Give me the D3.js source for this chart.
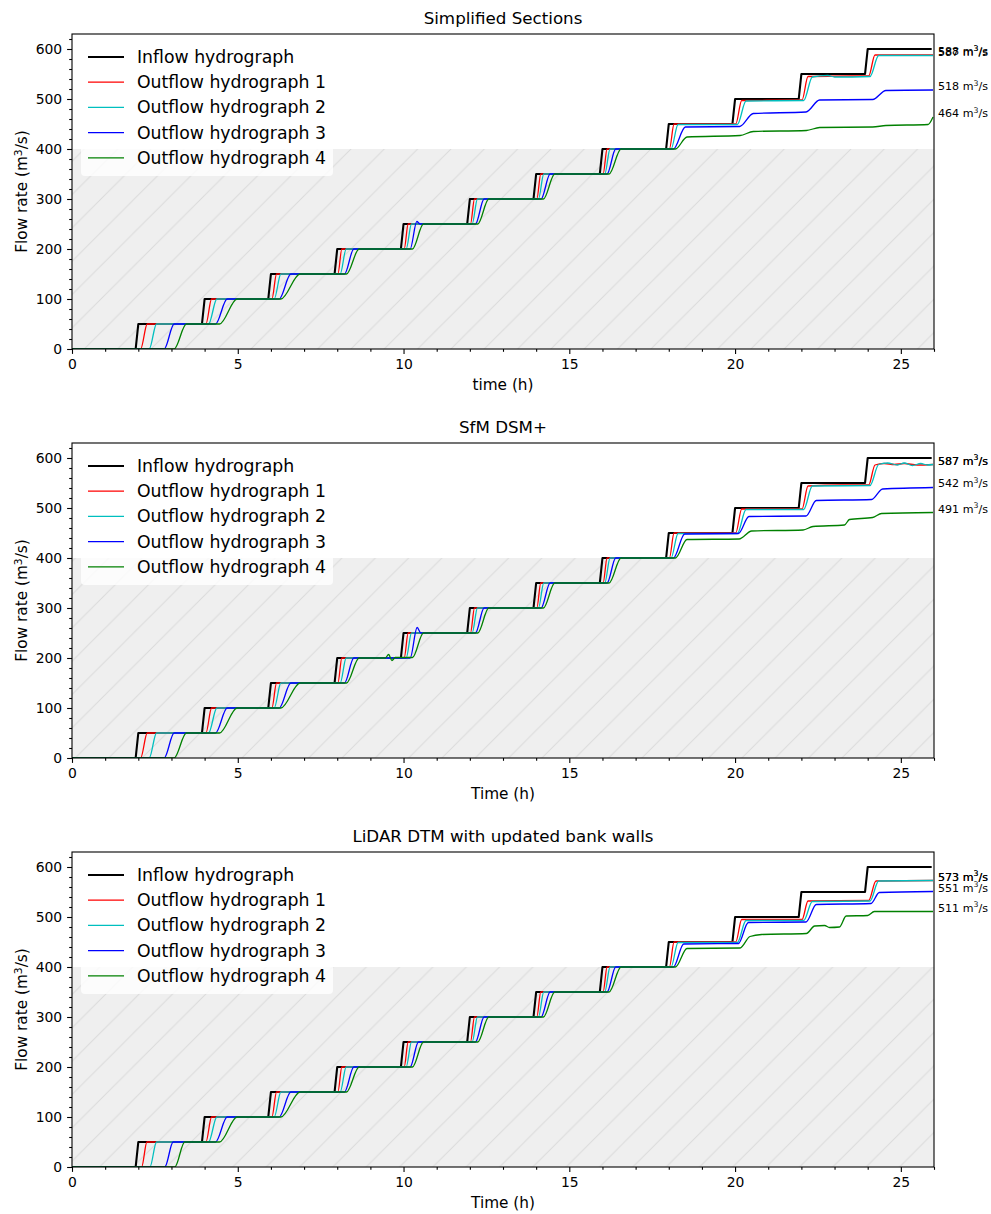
<!DOCTYPE html>
<html>
<head>
<meta charset="utf-8">
<script src="https://cdn.jsdelivr.net/npm/d3@7"></script>
<style>
  body { margin: 0; background: #fff; }
  svg text { font-family: "DejaVu Sans", sans-serif; fill: #000; }
</style>
</head>
<body>
<svg id="chart" width="991" height="1214"></svg>
<script>
// ---- data ----
const panelTitles = ["Simplified Sections", "SfM DSM+", "LiDAR DTM with updated bank walls"];
const xAxisLabels = ["time (h)", "Time (h)", "Time (h)"];
const seriesNames = ["Inflow hydrograph", "Outflow hydrograph 1", "Outflow hydrograph 2",
                     "Outflow hydrograph 3", "Outflow hydrograph 4"];
const xTicks = [0, 5, 10, 15, 20, 25];
const yTicks = [0, 100, 200, 300, 400, 500, 600];
const shadeLimit = 400;

// time (h), flow (m3/s)
const inflow = [[0,0],[1.92,0],[2.0,50],[3.92,50],[4.0,100],[5.92,100],[6.0,150],[7.92,150],
  [8.0,200],[9.92,200],[10.0,250],[11.92,250],[12.0,300],[13.92,300],[14.0,350],[15.92,350],
  [16.0,400],[17.92,400],[18.0,450],[19.92,450],[20.0,500],[21.92,500],[22.0,550],[23.92,550],
  [24.0,600],[25.93,600]];

// Simplified sections
const simpOut1 = [[0,0],[2.07,0],[2.27,50],[4.04,50],[4.21,100],[6.03,100],[6.17,150],[8.02,150],
  [8.14,200],[10.02,200],[10.14,250],[12.02,250],[12.14,300],[14.02,300],[14.14,350],[16.02,350],
  [16.14,400],[18.02,400],[18.16,450],[20.02,450],[20.2,497],[22.02,498],[22.2,545],[23.5,546],
  [24.03,546],[24.22,588],[25.97,588]];
const simpOut2 = [[0,0],[2.33,0],[2.55,50],[4.12,50],[4.37,100],[6.1,100],[6.3,150],[8.09,150],
  [8.27,200],[10.08,200],[10.24,250],[12.07,250],[12.23,300],[14.07,300],[14.23,350],[16.07,350],
  [16.23,400],[18.07,400],[18.28,449],[20.07,449],[20.33,496],[22.07,497],[22.33,544],[22.8,547],
  [23.0,544],[24.07,545],[24.33,587],[25.97,587]];
const simpOut3 = [[0,0],[2.78,0],[3.08,50],[4.33,50],[4.68,100],[6.25,100],[6.6,150],[8.22,150],
  [8.5,200],[10.2,200],[10.4,255],[10.5,250],[12.17,250],[12.43,300],[14.15,300],[14.42,350],
  [16.14,350],[16.4,400],[18.14,400],[18.5,444],[20.14,445],[20.55,471],[22.14,474],[22.55,498],
  [24.15,499],[24.55,517],[25.97,518]];
const simpOut4 = [[0,0],[3.08,0],[3.45,50],[4.45,50],[4.98,100],[6.3,100],[6.88,150],[8.28,150],
  [8.66,200],[10.27,200],[10.6,250],[12.24,250],[12.57,300],[14.22,300],[14.56,350],[16.2,350],
  [16.56,400],[18.2,400],[18.55,424],[20.15,427],[20.55,435],[22.15,437],[22.55,443],[24.15,444],
  [24.55,447],[25.82,449],[25.97,464]];
const simpFinal = [588, 587, 518, 464];

// SfM DSM+
const sfmOut1 = [[0,0],[2.07,0],[2.27,50],[4.04,50],[4.21,100],[6.03,100],[6.17,150],[8.02,150],
  [8.14,200],[10.02,200],[10.14,250],[12.02,250],[12.14,300],[14.02,300],[14.14,350],[16.02,350],
  [16.14,400],[18.02,400],[18.16,450],[20.02,450],[20.2,498],[22.02,498],[22.2,544],[23.2,546],
  [24.03,546],[24.22,586],[24.5,589],[24.8,587],[25.1,589],[25.5,586],[25.97,587]];
const sfmOut2 = [[0,0],[2.33,0],[2.55,50],[4.12,50],[4.37,100],[6.1,100],[6.3,150],[8.09,150],
  [8.27,200],[10.08,200],[10.24,250],[12.07,250],[12.23,300],[14.07,300],[14.23,350],[16.07,350],
  [16.23,400],[18.07,400],[18.28,449],[20.07,449],[20.33,497],[22.07,497],[22.33,544],[24.07,545],
  [24.33,587],[24.6,590],[24.9,586],[25.1,590],[25.35,585],[25.6,589],[25.8,586],[25.97,587]];
const sfmOut3 = [[0,0],[2.78,0],[3.08,50],[4.33,50],[4.68,100],[6.25,100],[6.6,150],[8.22,150],
  [8.5,200],[10.2,200],[10.41,261],[10.52,250],[12.17,250],[12.43,300],[14.15,300],[14.42,350],
  [16.14,350],[16.4,400],[18.14,400],[18.48,448],[20.1,449],[20.42,483],[22.14,484],[22.45,515],
  [24.12,517],[24.45,538],[25.97,541]];
const sfmOut4 = [[0,0],[3.08,0],[3.45,50],[4.45,50],[4.98,100],[6.3,100],[6.88,150],[8.28,150],
  [8.66,200],[9.45,200],[9.55,207],[9.65,195],[9.75,201],[10.27,201],[10.6,250],[12.24,250],
  [12.57,300],[14.22,300],[14.56,350],[16.2,350],[16.56,400],[18.2,400],[18.55,437],[20.12,438],
  [20.5,454],[22.05,456],[22.35,463],[23.3,466],[23.45,477],[24.15,481],[24.42,489],[25.97,491]];
const sfmFinal = [587, 587, 542, 491];

// LiDAR DTM with updated bank walls
const lidarOut1 = [[0,0],[2.1,0],[2.26,50],[4.04,50],[4.21,100],[6.03,100],[6.17,150],[8.02,150],
  [8.14,200],[10.02,200],[10.14,250],[12.02,250],[12.14,300],[14.02,300],[14.14,350],[16.02,350],
  [16.14,400],[18.02,400],[18.16,450],[20.02,450],[20.2,495],[22.02,495],[22.2,532],[24.03,533],
  [24.25,572],[25.97,573]];
const lidarOut2 = [[0,0],[2.35,0],[2.55,50],[4.12,50],[4.37,100],[6.1,100],[6.3,150],[8.09,150],
  [8.27,200],[10.08,200],[10.24,250],[12.07,250],[12.23,300],[14.07,300],[14.23,350],[16.07,350],
  [16.23,400],[18.07,400],[18.28,449],[20.07,449],[20.33,493],[22.07,493],[22.33,531],[24.07,532],
  [24.33,572],[25.97,573]];
const lidarOut3 = [[0,0],[2.8,0],[3.05,50],[4.33,50],[4.68,100],[6.25,100],[6.6,150],[8.22,150],
  [8.5,200],[10.2,200],[10.45,250],[12.17,250],[12.43,300],[14.15,300],[14.42,350],[16.14,350],
  [16.4,400],[18.14,400],[18.45,446],[20.1,447],[20.4,489],[22.14,490],[22.45,525],[24.1,527],
  [24.35,549],[25.97,551]];
const lidarOut4 = [[0,0],[3.1,0],[3.4,50],[4.45,50],[4.98,100],[6.3,100],[6.88,150],[8.28,150],
  [8.66,200],[10.27,200],[10.6,250],[12.24,250],[12.57,300],[14.22,300],[14.56,350],[16.2,350],
  [16.56,400],[18.2,400],[18.55,437],[20.15,438],[20.45,461],[20.8,465],[22.15,467],[22.4,482],
  [22.7,483],[22.85,479],[23.15,480],[23.35,502],[24.0,503],[24.2,511],[25.97,511]];
const lidarFinal = [573, 573, 551, 511];

// ---- styles / layout ----
const colors = ["#000000", "#ff0000", "#00bfbf", "#0000ff", "#008000"];
const widths = [2.1, 1.3, 1.3, 1.3, 1.3];
const left = 72, right = 934, panelH = 315;
const tops = [34, 443, 852];

const panels = [
  { series: [inflow, simpOut1, simpOut2, simpOut3, simpOut4], finals: simpFinal },
  { series: [inflow, sfmOut1, sfmOut2, sfmOut3, sfmOut4], finals: sfmFinal },
  { series: [inflow, lidarOut1, lidarOut2, lidarOut3, lidarOut4], finals: lidarFinal }
];

const svg = d3.select("#chart");
const defs = svg.append("defs");

// hatch for the shaded band
const hs = 33.33;
defs.append("pattern")
  .attr("id", "hatch")
  .attr("patternUnits", "userSpaceOnUse")
  .attr("width", hs).attr("height", hs)
  .append("path")
  .attr("d", `M0,${hs} L${hs},0 M${-hs/2},${hs/2} L${hs/2},${-hs/2} M${hs/2},${hs*1.5} L${hs*1.5},${hs/2}`)
  .attr("stroke", "#dadada")
  .attr("stroke-width", 1);

const x = d3.scaleLinear().domain([0, 26]).range([left, right]);

panels.forEach((p, i) => {
  const top = tops[i], bottom = top + panelH;
  const y = d3.scaleLinear().domain([0, 630]).range([bottom, top]);
  const g = svg.append("g");

  defs.append("clipPath").attr("id", "clip" + i)
    .append("rect").attr("x", left).attr("y", top)
    .attr("width", right - left).attr("height", panelH);

  // shaded band below 400
  g.append("rect")
    .attr("x", x(0)).attr("y", y(shadeLimit))
    .attr("width", x(26) - x(0)).attr("height", y(0) - y(shadeLimit))
    .attr("fill", "#efefef");
  g.append("rect")
    .attr("x", x(0)).attr("y", y(shadeLimit))
    .attr("width", x(26) - x(0)).attr("height", y(0) - y(shadeLimit))
    .attr("fill", "url(#hatch)");

  // hydrographs
  const lines = g.append("g").attr("clip-path", `url(#clip${i})`);
  p.series.forEach((s, k) => {
    const line = d3.line()
      .x(d => x(d[0])).y(d => y(d[1]))
      .curve(k === 0 ? d3.curveLinear : d3.curveMonotoneX);
    lines.append("path")
      .attr("d", line(s))
      .attr("fill", "none")
      .attr("stroke", colors[k])
      .attr("stroke-width", widths[k])
      .attr("stroke-linejoin", "round");
  });

  // final value labels
  p.finals.forEach(v => {
    const t = g.append("text")
      .attr("x", right + 4)
      .attr("y", y(v) - 4)
      .attr("dominant-baseline", "central")
      .attr("font-size", 11.1);
    t.append("tspan").text(v + " m");
    t.append("tspan").attr("dy", -3.5).attr("font-size", 7.8).text("3");
    t.append("tspan").attr("dy", 3.5).text("/s");
  });

  // axes
  const xMinor = d3.range(0, 27, 1).filter(v => v % 5 !== 0);
  const yMinor = d3.range(0, 630, 20).filter(v => v % 100 !== 0);

  g.append("g").attr("transform", `translate(0,${bottom})`)
    .call(d3.axisBottom(x).tickValues(xTicks).tickSize(4.9).tickPadding(4.9).tickFormat(d3.format("d")));
  g.append("g").attr("transform", `translate(0,${bottom})`)
    .call(d3.axisBottom(x).tickValues(xMinor).tickSize(2.8).tickFormat(""));
  g.append("g").attr("transform", `translate(${left},0)`)
    .call(d3.axisLeft(y).tickValues(yTicks).tickSize(4.9).tickPadding(4.9).tickFormat(d3.format("d")));
  g.append("g").attr("transform", `translate(${left},0)`)
    .call(d3.axisLeft(y).tickValues(yMinor).tickSize(2.8).tickFormat(""));

  g.selectAll(".domain").remove();
  g.selectAll(".tick line").attr("stroke", "#000").attr("stroke-width", 1.1);
  g.selectAll(".tick text").attr("font-size", 13.9).attr("fill", "#000")
    .attr("font-family", "DejaVu Sans, sans-serif");

  // frame
  g.append("rect")
    .attr("x", left).attr("y", top)
    .attr("width", right - left).attr("height", panelH)
    .attr("fill", "none").attr("stroke", "#000").attr("stroke-width", 1.1);

  // title and axis labels
  g.append("text")
    .attr("x", (left + right) / 2).attr("y", top - 10)
    .attr("text-anchor", "middle").attr("font-size", 16.7)
    .text(panelTitles[i]);

  g.append("text")
    .attr("x", (left + right) / 2).attr("y", bottom + 41)
    .attr("text-anchor", "middle").attr("font-size", 15.3)
    .text(xAxisLabels[i]);

  const yl = g.append("text")
    .attr("transform", `translate(27,${(top + bottom) / 2}) rotate(-90)`)
    .attr("text-anchor", "middle").attr("font-size", 15.3);
  yl.append("tspan").text("Flow rate (m");
  yl.append("tspan").attr("dy", -5).attr("font-size", 10.7).text("3");
  yl.append("tspan").attr("dy", 5).text("/s)");

  // legend
  const lg = g.append("g").attr("transform", `translate(${left + 9},${top + 5})`);
  lg.append("rect")
    .attr("width", 252).attr("height", 137).attr("rx", 4)
    .attr("fill", "#fff").attr("fill-opacity", 0.8);
  seriesNames.forEach((name, k) => {
    const ry = 18 + k * 25.2;
    lg.append("line")
      .attr("x1", 7).attr("x2", 43).attr("y1", ry).attr("y2", ry)
      .attr("stroke", colors[k]).attr("stroke-width", widths[k]);
    lg.append("text")
      .attr("x", 56).attr("y", ry)
      .attr("dominant-baseline", "central")
      .attr("font-size", 17.3)
      .text(name);
  });
});
</script>
</body>
</html>
